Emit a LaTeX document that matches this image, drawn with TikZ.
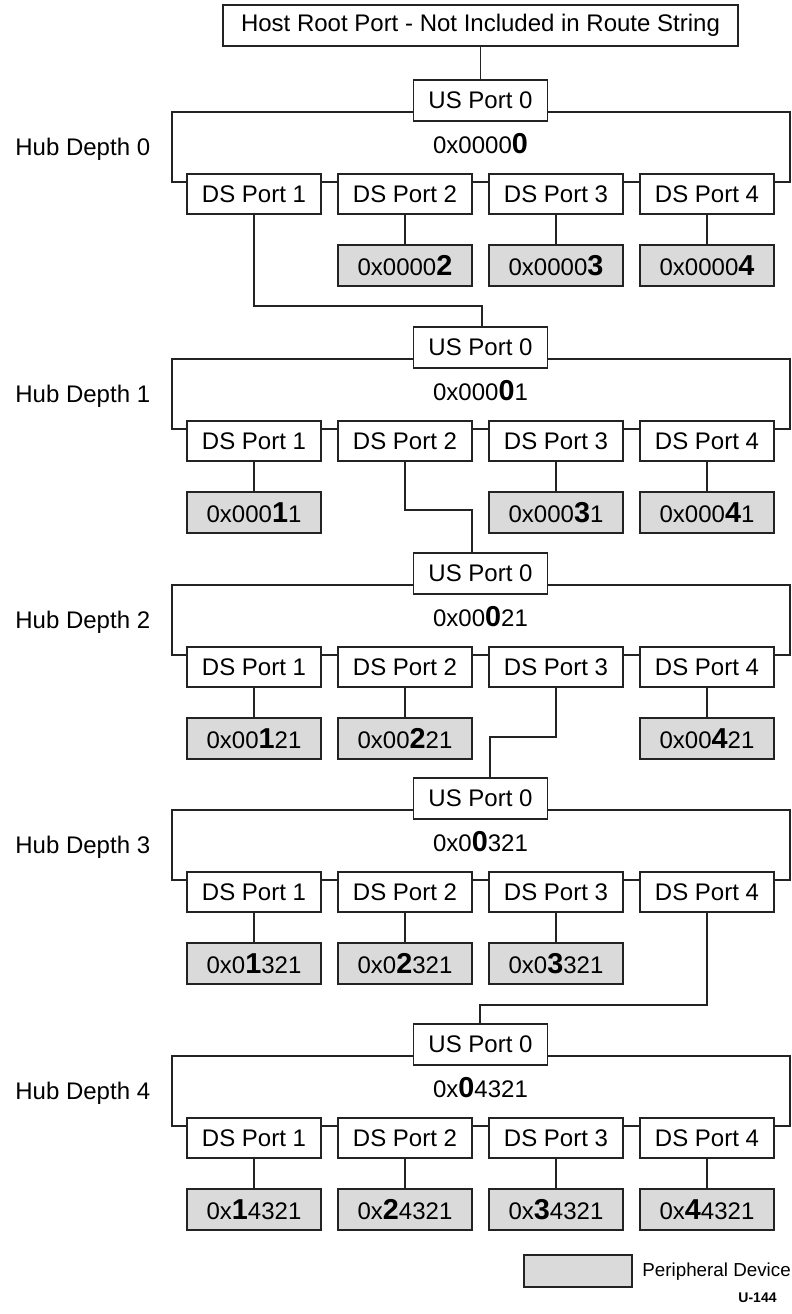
\documentclass[tikz,border=0pt]{standalone}
\usepackage{fontspec}
\setmainfont{Liberation Sans}
\definecolor{trait}{RGB}{35,35,35}
\definecolor{grisclair}{RGB}{218,218,218}
\usepackage{tikz}
\usetikzlibrary{calc}
\newcommand{\gras}[1]{{\fontsize{14.4}{14}\selectfont\bfseries #1}}

\begin{document}
\begin{tikzpicture}[x=0.5pt,y=-0.5pt,font=\fontsize{12}{14}\selectfont,
	ligne/.style={trait,line width=0.6pt},
	port/.style={draw=trait,line width=0.6pt,fill=white,inner sep=0pt,minimum width=67pt,minimum height=20.5pt},
	periph/.style={port,fill=grisclair}]
	\useasboundingbox (0,0) rectangle (792,1314);
	%% port racine de l'hote
	\node[port,minimum width=257.5pt] (hote) at (480.5,25.5) {Host Root Port - Not Included in Route String};
	
	%% hubs, profondeur 0 a 4
	\foreach \d/\U/\pre/\suf/\lst in {0/80/0x0000/{}/{2,3,4},1/327/0x000/1/{1,3,4},2/553/0x00/21/{1,2,4},3/778/0x0/321/{1,2,3},4/1024/0x/4321/{1,2,3,4}}{
		\draw[ligne] (172,\U+32) rectangle (790,\U+102);
		\node[port] (us\d) at (480.5,\U+20.5) {US Port 0};
		\node[anchor=base,inner sep=0pt] (adr\d) at (480.5,\U+73) {\pre\gras{0}\suf};
		\node[anchor=base west,inner sep=0pt] (hd\d) at (15,\U+75) {Hub Depth \d};
		\foreach \p in {1,2,3,4}
		\node[port,minimum height=20pt] (ds\d\p) at (254+151*\p-151,\U+114) {DS Port \p};
		%% peripheriques
		\foreach \p in \lst{
			\node[periph] (pd\d\p) at (254+151*\p-151,\U+185.5) {\pre\gras{\p}\suf};
			\draw[ligne] (ds\d\p.south) -- (pd\d\p.north);
		}
	}
	\draw[ligne] (hote.south) -- (us0.north);
	
	%% liaisons entre hubs
	\coordinate (k1) at (482,306);
	\coordinate (k2) at (472,510);
	\coordinate (k3) at (490,737);
	\coordinate (k4) at (480,1005);
	\draw[ligne] (ds01.south) |- (k1) -- (k1 |- us1.north);
	\draw[ligne] (ds12.south) |- (k2) -- (k2 |- us2.north);
	\draw[ligne] (ds23.south) |- (k3) -- (k3 |- us3.north);
	\draw[ligne] (ds34.south) |- (k4) -- (k4 |- us4.north);
	
	%% legende
	\node[periph,minimum width=54pt,minimum height=16pt] (leg) at (578,1271) {};
	\node[anchor=west,inner sep=0pt,font=\fontsize{9.4}{11}\selectfont] (legtxt) at (642,1272) {Peripheral Device};
	\node[anchor=east,inner sep=0pt,font=\fontsize{7}{8}\selectfont\bfseries] (ref) at (777,1298) {U-144};
\end{tikzpicture}
\end{document}
